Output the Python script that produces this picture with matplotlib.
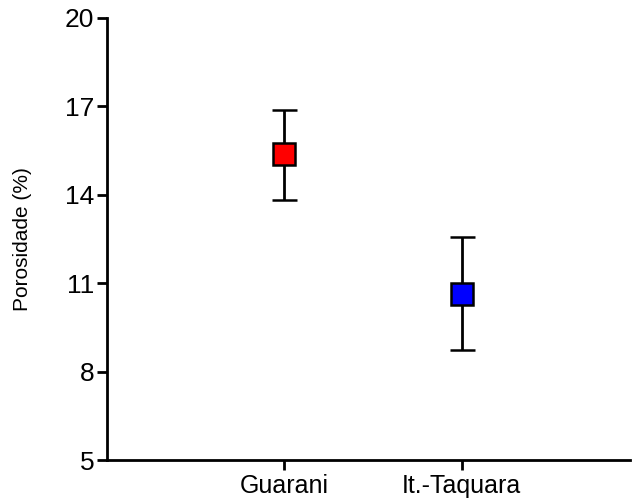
import matplotlib
matplotlib.use("Agg")
import matplotlib.pyplot as plt

categories = ["Guarani", "It.-Taquara"]
means = [15.4, 10.65]
upper = [16.88, 12.57]
lower = [13.82, 8.72]
colors = ["#ff0000", "#0000ff"]
yticks = [5, 8, 11, 14, 17, 20]

plt.rcParams['font.family'] = ['Liberation Sans', 'DejaVu Sans']

fig = plt.figure(figsize=(6.32, 4.98), dpi=100)
ax = fig.add_axes([0.169, 0.076, 0.828, 0.888])

xs = [1, 2]
for x, m, u, l, c in zip(xs, means, upper, lower, colors):
    ax.errorbar([x], [m], yerr=[[m - l], [u - m]], fmt='s', color='black',
                ecolor='black', elinewidth=2, capsize=9, capthick=2,
                markersize=16.5, markerfacecolor=c, markeredgecolor='black',
                markeredgewidth=1.8, zorder=3)

ax.set_xlim(0, 2.95)
ax.set_ylim(5, 20)
ax.set_yticks(yticks)
ax.set_yticklabels([str(t) for t in yticks], fontsize=19)
ax.set_xticks(xs)
ax.set_xticklabels(categories, fontsize=18)
ax.set_ylabel("Porosidade (%)", fontsize=15, labelpad=24)

for s in ['top', 'right']:
    ax.spines[s].set_visible(False)
for s in ['left', 'bottom']:
    ax.spines[s].set_linewidth(2)
ax.tick_params(axis='both', direction='out', length=7, width=2, pad=3)
ax.tick_params(axis='y', pad=2)

fig.savefig("out.png", dpi=100)
